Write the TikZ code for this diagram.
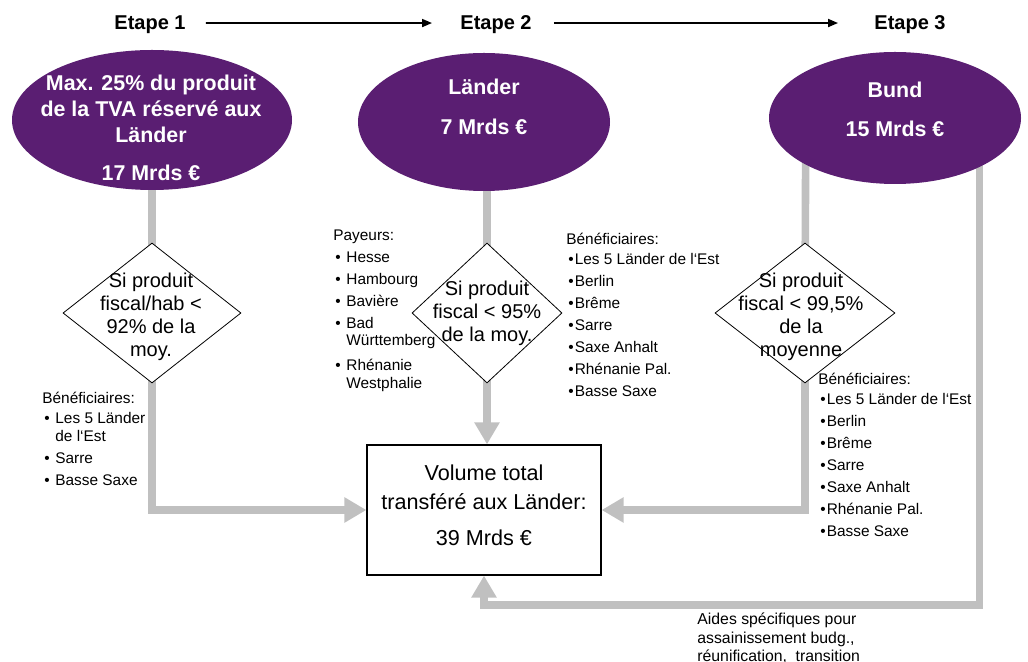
\documentclass[tikz,border=0pt]{standalone}
\usepackage{fontspec}
\setmainfont{Liberation Sans}
\usepackage{tikz}
\usetikzlibrary{arrows.meta,shapes,calc,backgrounds}
\usetikzlibrary{positioning}
\definecolor{pourpre}{HTML}{5A1E72}
\definecolor{gris}{HTML}{C0C0C0}
\newcommand{\puce}{\makebox[6.5pt][l]{\hspace{1pt}•}}
\newcommand{\pucette}{\makebox[4.2pt][l]{\hspace{1pt}•}}
\tikzset{
    etape/.style={
           ellipse,
           fill=pourpre,
           inner sep=0pt,
           },
    titre/.style={
           text=white,
           align=center,
           inner sep=0pt,
           font=\fontsize{10.7}{13}\selectfont\bfseries,
           },
    condition/.style={
           diamond,
           draw=black,
           fill=white,
           inner sep=0pt,
           minimum height=70pt,
           },
    ctexte/.style={
           align=center,
           inner sep=0pt,
           font=\fontsize{10}{11.5}\selectfont,
           },
    liste/.style={
           align=left,
           anchor=north west,
           inner sep=0pt,
           font=\fontsize{7.7}{11}\selectfont,
           },
    tuyau/.style={
           draw=gris,
           line width=3.8pt,
           },
    pil/.style={
           -{Triangle[length=11pt,width=12pt]},
           },
    fleche/.style={
           -{Triangle[length=5pt,width=4pt]},
           line width=0.9pt,
           },
    etiquette/.style={
           anchor=base,
           inner sep=0pt,
           text depth=0pt,
           font=\fontsize{10}{12}\selectfont\bfseries,
           }
}

\begin{document}
\begin{tikzpicture}[x=0.5pt,y=-0.5pt]
\useasboundingbox (0,0) rectangle (1028,662);
% les trois etapes
\node (t1) at (150,30) [etiquette] {Etape 1};
\node (t2) at (496,30) [etiquette] {Etape 2};
\node (t3) at (910,30) [etiquette] {Etape 3};
\draw[fleche, shorten <=10pt, shorten >=14pt] (t1) -- (t2);
\draw[fleche, shorten <=11pt, shorten >=18pt] (t2) -- (t3);
% ellipses
\node (e1) at (152,120) [etape, minimum width=140pt, minimum height=70pt] {};
\node (e2) at (484,122) [etape, minimum width=126pt, minimum height=69pt] {};
\node (e3) at (895,118) [etape, minimum width=126pt, minimum height=66pt] {};
\node (e1txt) at (151,127.5) [titre] {Max. 25\% du produit\\de la TVA réservé aux\\Länder\\[6pt]17 Mrds €};
\node (e2txt) at (484,107) [titre] {Länder\\[7pt]7 Mrds €};
\node (e3txt) at (895,109) [titre] {Bund\\[6.5pt]15 Mrds €};
% conditions
\node (c1) at (152,313) [condition, minimum width=89pt] {};
\node (c2) at (487,313) [condition, minimum width=75pt] {};
\node (c3) at (805,313) [condition, minimum width=90pt] {};
\node (c1txt) at (151,317) [ctexte] {Si produit\\fiscal/hab <\\92\% de la\\moy.};
\node (c2txt) at (487,313) [ctexte] {Si produit\\fiscal < 95\%\\de la moy.};
\node (c3txt) at (801,316.5) [ctexte] {Si produit\\fiscal < 99,5\%\\de la\\moyenne};
% volume total
\node (vol) at (484,510) [draw, line width=0.6pt, minimum width=117pt, minimum height=65pt] {};
\node (voltxt) at (484,505.5) [ctexte, font=\fontsize{10.8}{14.5}\selectfont] {Volume total\\transféré aux Länder:\\[3.5pt]39 Mrds €};
% listes
\node (benef1) at (42,391.5) [liste] {Bénéficiaires:\\[-1pt]%
  \puce Les 5 Länder\\[-2pt]\makebox[6.5pt]{}de l‘Est\\%
  \puce Sarre\\%
  \puce Basse Saxe};
\node (payeurs) at (333,230) [liste] {Payeurs:\\%
  \puce Hesse\\%
  \puce Hambourg\\%
  \puce Bavière\\%
  \puce Bad\\[-2.5pt]\makebox[6.5pt]{}Württemberg\\[1.5pt]%
  \puce Rhénanie\\[-2pt]\makebox[6.5pt]{}Westphalie};
\node (benef2) at (566,233) [liste] {Bénéficiaires:\\[-1pt]%
  \pucette Les 5 Länder de l‘Est\\%
  \pucette Berlin\\%
  \pucette Brême\\%
  \pucette Sarre\\%
  \pucette Saxe Anhalt\\%
  \pucette Rhénanie Pal.\\%
  \pucette Basse Saxe};
\node (benef3) at (818,373) [liste] {Bénéficiaires:\\[-1pt]%
  \pucette Les 5 Länder de l‘Est\\%
  \pucette Berlin\\%
  \pucette Brême\\%
  \pucette Sarre\\%
  \pucette Saxe Anhalt\\%
  \pucette Rhénanie Pal.\\%
  \pucette Basse Saxe};
\node (aides) at (697,612.5) [liste, font=\fontsize{7.9}{9.25}\selectfont] {Aides spécifiques pour\\assainissement budg.,\\réunification,~ transition};
% flux
\begin{scope}[on background layer]
\path (e1) edge[tuyau] (c1.center);
\draw[tuyau, pil] (c1.center) |- (vol);
\draw[tuyau] (c2 |- e2) -- (c2.center);
\draw[tuyau, pil] (c2.center) -- (c2 |- vol.north);
\draw[tuyau] ([yshift=3pt]e3.south west) -- (c3.center);
\draw[tuyau, pil] (c3.center) |- (vol);
\coordinate (retour) at (484,605);
\draw[tuyau, pil] ([xshift=-2.5pt,yshift=3pt]e3.south east) |- (retour) -- (vol);
\end{scope}
\end{tikzpicture}
\end{document}
